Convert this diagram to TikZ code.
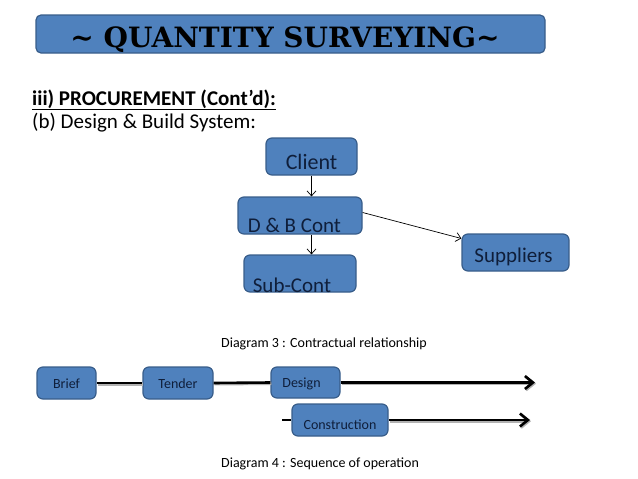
\documentclass[tikz,border=0pt]{standalone}
\usepackage{fontspec}
\setmainfont{Carlito}
\newfontfamily\titlefont{DejaVu Serif}
\usetikzlibrary{arrows.meta,calc,positioning}
\definecolor{boxblue}{HTML}{4F81BD}
\definecolor{boxline}{HTML}{385D8A}
\definecolor{boxtext}{HTML}{0F1E3A}
\tikzset{
    mybox/.style={rectangle,rounded corners=6pt,fill=boxblue,draw=boxline,line width=1.2pt,inner xsep=0pt,inner ysep=0pt,text depth=0pt,text=boxtext},
    mylink/.style={line width=0.7pt,draw=black,-{Straight Barb[length=5pt,width=9pt]}},
    myflow/.style={line width=2.6pt,draw=black},
    myshadow/.style={line width=2.6pt,draw=black!30},
    flowtip/.style={-{Straight Barb[length=8pt,width=13pt]}},
    every node/.style={font=\fontsize{14}{17}\selectfont}
}

\begin{document}
\begin{tikzpicture}[x=1pt,y=-1pt]
  \useasboundingbox (0,0) rectangle (638,479);

  % 标题
  \node[mybox,rounded corners=5pt,minimum width=509pt,minimum height=38pt,
        text height=26pt,text=black,font=\titlefont\bfseries\fontsize{28}{31}\selectfont]
        (title) at (290.5,34) {\textasciitilde{} QUANTITY SURVEYING\textasciitilde\hspace*{11pt}};

  % 小标题
  \node[anchor=base west,inner sep=0pt,font=\bfseries\fontsize{21}{25}\selectfont]
        (head) at (32,105) {\underline{iii) PROCUREMENT (Cont'd):}};
  \node[anchor=base west,inner sep=0pt,font=\fontsize{21}{25}\selectfont]
        (system) at (32,128) {(b) Design \& Build System:};

  % 合同关系
  \node[mybox,minimum width=91pt,minimum height=37pt,text height=25pt,
        font=\fontsize{22}{26}\selectfont] (client) at (311.5,156.5) {Client};
  \node[mybox,minimum width=124pt,minimum height=37pt,text height=33pt,
        font=\fontsize{21}{25}\selectfont] (dbc) at (300,215.5) {D \& B Cont\hspace*{11pt}};
  \node[mybox,minimum width=112pt,minimum height=37pt,text height=37pt,
        font=\fontsize{21}{25}\selectfont] (subc) at (300,273.5) {Sub-Cont\hspace*{16pt}};
  \node[mybox,minimum width=107pt,minimum height=37pt,text height=19pt,
        font=\fontsize{21}{25}\selectfont] (supp) at (515.5,252.5) {Suppliers\hspace*{4pt}};

  \draw[mylink] (client.south) -- (client.south |- dbc.north);
  \draw[mylink] (dbc.south -| client.south) -- (subc.north -| client.south);
  \draw[mylink] ($(dbc.east)+(0,-3)$) -- ($(supp.west)+(0,-14)$);

  \node[anchor=base west,inner sep=0pt] (cap3) at (221,347) {Diagram 3 : Contractual relationship};

  % 工作顺序
  \node[mybox,minimum width=59pt,minimum height=32pt,text height=10pt] (brief) at (66.5,383) {Brief};
  \node[mybox,minimum width=70pt,minimum height=32pt,text height=10pt] (tender) at (178,383) {Tender};
  \node[mybox,minimum width=69pt,minimum height=31pt,text height=9pt] (design) at (305.5,382.5) {Design\hspace*{8pt}};
  \node[mybox,minimum width=96pt,minimum height=32pt,text height=18pt] (constr) at (340,420) {Construction};

  \coordinate (dend) at (535,382.5);
  \coordinate (cstart) at (282,420);
  \coordinate (cend) at (530,420);

  \foreach \a/\b in {brief/tender,tender/design}{
    \draw[myshadow] ($(\a.east)+(1,1.2)$) -- ($(\b.west)+(1,1.2)$);
    \draw[myflow] (\a.east) -- (\b.west);
  }
  \draw[myshadow,flowtip] ($(design.east)+(1,1.2)$) -- ($(dend)+(1,1.2)$);
  \draw[myflow,flowtip] (design.east) -- (dend);
  \draw[myflow] (cstart) -- (constr.west);
  \draw[myshadow,flowtip] ($(constr.east)+(1,1.2)$) -- ($(cend)+(1,1.2)$);
  \draw[myflow,flowtip] (constr.east) -- (cend);

  \node[anchor=base west,inner sep=0pt] (cap4) at (221,467) {Diagram 4 : Sequence of operation};
\end{tikzpicture}
\end{document}
